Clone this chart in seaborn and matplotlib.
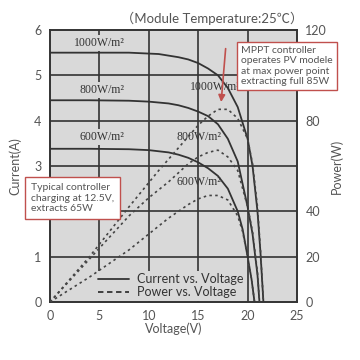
import matplotlib
matplotlib.use("Agg")
import matplotlib.pyplot as plt
from matplotlib.lines import Line2D
import seaborn as sns
import pandas as pd

# ---- data ----
irradiance = ["1000W/m²", "800W/m²", "600W/m²"]

v_1000 = [0, 4, 8, 11, 13, 14, 15, 16, 17, 18, 19, 20, 20.5, 21, 21.3, 21.6]
i_1000 = [5.5, 5.5, 5.5, 5.47, 5.4, 5.35, 5.27, 5.15, 5.0, 4.72, 4.3, 3.6, 3.0, 2.0, 1.1, 0]
p_1000 = [0, 20, 42, 58, 68, 73, 78, 82, 85, 85, 81, 72, 61, 42, 23, 0]

v_800 = [0, 4, 8, 10, 12, 13, 14, 15, 16, 17, 18, 19, 20, 20.5, 21, 21.2]
i_800 = [4.45, 4.45, 4.44, 4.42, 4.38, 4.34, 4.28, 4.2, 4.1, 3.92, 3.6, 3.1, 2.1, 1.5, 0.6, 0]
p_800 = [0, 19, 38, 46, 53, 57, 61, 64, 66, 67, 64, 58, 42, 31, 13, 0]

v_600 = [0, 4, 8, 10, 12, 13, 14, 15, 16, 17, 18, 19, 19.5, 20, 20.4, 20.7]
i_600 = [3.38, 3.38, 3.37, 3.35, 3.3, 3.25, 3.18, 3.08, 2.95, 2.78, 2.5, 2.0, 1.6, 1.0, 0.5, 0]
p_600 = [0, 11, 23, 30, 37, 40, 43, 45.5, 47, 47, 45, 38, 31, 20, 10, 0]

x_ticks = [0, 5, 10, 15, 20, 25]
i_ticks = [0, 1, 2, 3, 4, 5, 6]
i_tick_labels = ["0", "1", "", "3", "4", "5", "6"]
p_ticks = [0, 20, 40, 60, 80, 100, 120]
p_tick_labels = ["0", "20", "40", "", "80", "", "120"]

rows = []
for name, vs, cs, ps in [(irradiance[0], v_1000, i_1000, p_1000),
                         (irradiance[1], v_800, i_800, p_800),
                         (irradiance[2], v_600, i_600, p_600)]:
    for v, c, p in zip(vs, cs, ps):
        rows.append({"irr": name, "V": v, "I": c, "P": p})
df = pd.DataFrame(rows)

# ---- style ----
sns.set_style("white")
plt.rcParams["font.family"] = ["Lato", "DejaVu Sans"]

BG = "#d9d9d9"
DARK = "#333333"
TXT = "#555555"
RED = "#c0504d"

fig = plt.figure(figsize=(3.6, 3.6), dpi=100)
fig.patch.set_facecolor("white")
ax = fig.add_axes([50 / 360, 1 - 302 / 360, 247 / 360, 272 / 360])
ax.set_facecolor(BG)

ax.set_xlim(0, 25)
ax.set_ylim(0, 6)
ax.set_xticks(x_ticks)
ax.set_yticks(i_ticks)
ax.set_yticklabels(i_tick_labels)
for v in [5, 10, 15, 20]:
    ax.axvline(v, color=DARK, lw=1.2, zorder=1)
for y in [1, 2, 3, 4, 5]:
    ax.axhline(y, color=DARK, lw=1.2, zorder=1)

for name in irradiance:
    sub = df[df.irr == name]
    sns.lineplot(data=sub, x="V", y="I", ax=ax, color=DARK, lw=1.3,
                 sort=False, estimator=None, legend=False, zorder=3)

for s in ax.spines.values():
    s.set_color(DARK)
    s.set_linewidth(1.2)
ax.tick_params(axis="both", colors=TXT, labelsize=9, length=0, pad=6)
ax.set_xlabel("Voltage(V)", color=TXT, fontsize=9, labelpad=0)
ax.set_ylabel("Current(A)", color=TXT, fontsize=9, labelpad=9)

# left irradiance labels
for txt, xv, yv in [("1000W/m²", 5.0, 5.71), ("800W/m²", 5.3, 4.68), ("600W/m²", 5.3, 3.64)]:
    ax.text(xv, yv, txt, ha="center", va="center", fontsize=8.5, color=DARK,
            family=["Liberation Serif", "DejaVu Serif"],
            bbox=dict(facecolor=BG, edgecolor="none", pad=1.5), zorder=4)

# right irradiance labels
for txt, xv, yv in [("1000W/m²", 16.7, 4.75), ("800W/m²", 15.1, 3.65), ("600W/m²", 15.1, 2.64)]:
    ax.text(xv, yv, txt, ha="center", va="center", fontsize=8.5, color=DARK,
            family=["Liberation Serif", "DejaVu Serif"], zorder=4)

# legend (on the base axes so the frame hides the grid beneath it)
handles = [Line2D([], [], color=DARK, lw=1.3),
           Line2D([], [], color=DARK, lw=1.3, linestyle=(0, (3, 2)))]
leg = ax.legend(handles, ["Current vs. Voltage", "Power vs. Voltage"],
                loc="lower left", bbox_to_anchor=(0.175, -0.005), frameon=True,
                fontsize=9, handlelength=2.5, labelspacing=0.1, borderpad=0.2,
                handletextpad=0.6, borderaxespad=0.2)
leg.get_frame().set_facecolor(BG)
leg.get_frame().set_edgecolor("none")
leg.get_frame().set_alpha(1)
for t in leg.get_texts():
    t.set_color(DARK)
leg.set_zorder(5)

ax2 = ax.twinx()
ax2.set_ylim(0, 120)
ax2.set_yticks(p_ticks)
ax2.set_yticklabels(p_tick_labels)
for name in irradiance:
    sub = df[df.irr == name]
    sns.lineplot(data=sub, x="V", y="P", ax=ax2, color="#444444", lw=1.2,
                 sort=False, estimator=None, legend=False, zorder=3,
                 linestyle=(0, (1.5, 2)))
ax2.set_xlim(0, 25)
ax2.tick_params(axis="y", colors=TXT, labelsize=9, length=0, pad=6)
ax2.set_ylabel("Power(W)", color=TXT, fontsize=9, labelpad=2)
for s in ax2.spines.values():
    s.set_color(DARK)
    s.set_linewidth(1.2)

# MPPT callout
fig.text(241 / 360, 1 - 66 / 360,
         "MPPT controller\noperates PV modele\nat max power point\nextracting full 85W",
         ha="left", va="center", fontsize=7.5, color=TXT, linespacing=1.2,
         bbox=dict(boxstyle="square,pad=0.4", facecolor="white", edgecolor=RED, lw=1))
ax2.annotate("", xy=(17.3, 87), xytext=(17.8, 113),
             arrowprops=dict(arrowstyle="-|>", color=RED, lw=1.2, mutation_scale=10),
             zorder=6)

# typical controller callout
fig.text(31 / 360, 1 - 198 / 360,
         "Typical controller\ncharging at 12.5V,\nextracts 65W",
         ha="left", va="center", fontsize=7.5, color=TXT, linespacing=1.25,
         bbox=dict(boxstyle="square,pad=0.55", facecolor="white", edgecolor=RED, lw=1))

fig.text(212 / 360, 1 - 18 / 360, "（Module Temperature:25℃）", ha="center",
         va="center", fontsize=9.5, color=TXT,
         family=["Lato", "Noto Sans CJK SC", "DejaVu Sans"])

fig.savefig("out.png", dpi=100, facecolor="white")
